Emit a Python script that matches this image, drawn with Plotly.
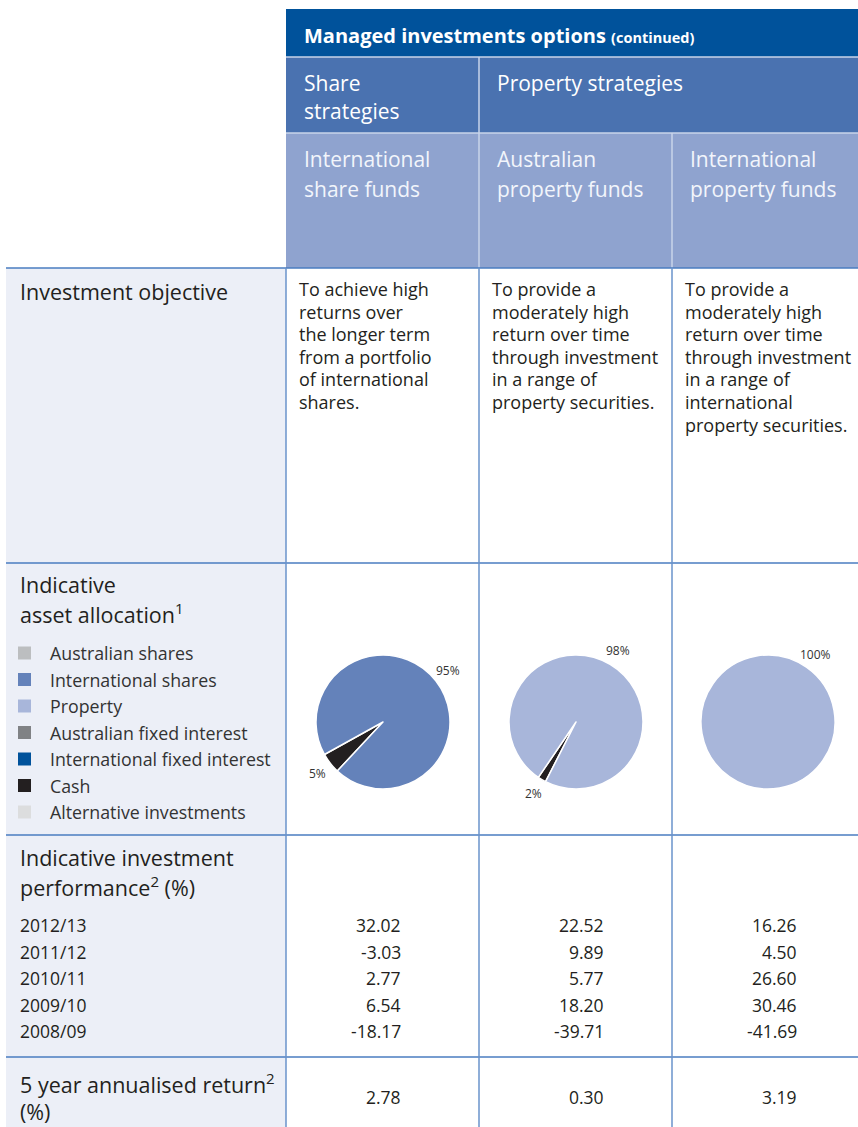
import math

import plotly.graph_objects as go

# ---- data ----
funds = ["International<br>share funds", "Australian<br>property funds", "International<br>property funds"]
strategies = ["Share<br>strategies", "Property strategies"]
objectives = [
    ["To achieve high", "returns over", "the longer term", "from a portfolio", "of international", "shares."],
    ["To provide a", "moderately high", "return over time", "through investment", "in a range of", "property securities."],
    ["To provide a", "moderately high", "return over time", "through investment", "in a range of", "international", "property securities."],
]
asset_classes = ["Australian shares", "International shares", "Property", "Australian fixed interest",
                 "International fixed interest", "Cash", "Alternative investments"]
asset_colors = ["#BCBEC0", "#6482BA", "#A8B6DA", "#808285", "#00529B", "#231F20", "#DCDDDE"]

pie_labels = [["Cash", "International shares"], ["Cash", "Property"], ["Property"]]
pie_values = [[5, 95], [2, 98], [100]]
pie_rotation = [223, 207, 215]

years = ["2012/13", "2011/12", "2010/11", "2009/10", "2008/09"]
performance = [
    ["32.02", "-3.03", "2.77", "6.54", "-18.17"],
    ["22.52", "9.89", "5.77", "18.20", "-39.71"],
    ["16.26", "4.50", "26.60", "30.46", "-41.69"],
]
five_year = ["2.78", "0.30", "3.19"]

# ---- layout constants (page pixels) ----
W, H = 858, 1127
FONT = "Open Sans"
DARK = "#231F20"
col_x = [286, 479, 672, W]
line_blue = "#4A7CC0"

fig = go.Figure()
shapes = []
ann = []


def rect(x0, y0, x1, y1, fill):
    shapes.append(dict(type="rect", xref="x", yref="y", x0=x0, y0=y0, x1=x1, y1=y1,
                       fillcolor=fill, line_width=0, layer="below"))


def line(x0, y0, x1, y1, color, width=1.5):
    shapes.append(dict(type="line", xref="x", yref="y", x0=x0, y0=y0, x1=x1, y1=y1,
                       line=dict(color=color, width=width)))


def text(x, y, s, size=18, color=DARK, anchor="left", weight=None):
    f = dict(family=FONT, size=size, color=color)
    if weight:
        f["weight"] = weight
    ann.append(dict(xref="x", yref="y", x=x, y=y, text=s, showarrow=False,
                    xanchor=anchor, yanchor="middle", font=f))


# header bands
rect(col_x[0], 9, W, 57, "#00529B")
rect(col_x[0], 57, W, 133, "#4A72B0")
rect(col_x[0], 133, W, 268, "#8FA3CF")
line(col_x[0], 57, W, 57, "#C9D4EA")
line(col_x[0], 133, W, 133, "#C9D4EA")
line(col_x[1], 57, col_x[1], 268, "#C9D4EA")
line(col_x[2], 133, col_x[2], 268, "#C9D4EA")

text(302, 35, "<b>Managed investments options</b> <b><span style='font-size:14.5px'>(continued)</span></b>",
     size=20, color="white")
for i, s in enumerate(strategies):
    for j, part in enumerate(s.split("<br>")):
        text(col_x[i] + 16, 83 + 28 * j, part, size=21, color="white")
for i, s in enumerate(funds):
    for j, part in enumerate(s.split("<br>")):
        text(col_x[i] + 16, 159 + 30 * j, part, size=21, color="#F2F5FB")

# body background + grid
rect(6, 268, col_x[0], H, "#ECEFF7")
for y in [268, 563, 835, 1057]:
    line(6, y, W, y, line_blue)
for x in col_x[:3]:
    line(x, 268, x, H, "#6A93CB")

# investment objective
text(18, 291, "Investment objective", size=21.5, weight=500)
for i, lines in enumerate(objectives):
    for j, part in enumerate(lines):
        text(col_x[i] + 11, 289 + 22.6 * j, part, size=18)

# asset allocation
text(18, 584, "Indicative", size=21.5, weight=500)
text(18, 613, "asset allocation<sup>1</sup>", size=21.5, weight=500)
leg_y = [653 + 26.5 * i for i in range(len(asset_classes))]
fig.add_trace(go.Scatter(x=[24.5] * len(asset_classes), y=leg_y, mode="markers",
                         marker=dict(symbol="square", size=13, color=asset_colors),
                         hoverinfo="skip", showlegend=False))
for y, name in zip(leg_y, asset_classes):
    text(48, y, name, size=17.8, color="#333333")

# pies
R, CY = 67, 722
pie_cx = [383, 576, 768]
for i in range(3):
    cx = pie_cx[i]
    colors = [asset_colors[asset_classes.index(l)] for l in pie_labels[i]]
    fig.add_trace(go.Pie(
        labels=pie_labels[i], values=pie_values[i], sort=False, direction="clockwise",
        rotation=pie_rotation[i], textinfo="none", hoverinfo="label+percent",
        marker=dict(colors=colors, line=dict(color="white", width=1.5)),
        domain=dict(x=[(cx - R) / W, (cx + R) / W], y=[1 - (CY + R) / H, 1 - (CY - R) / H]),
        showlegend=False,
    ))
    # percentage labels just outside each slice's mid angle
    total = sum(pie_values[i])
    cum = 0
    for v in pie_values[i]:
        mid = math.radians(pie_rotation[i] + (cum + v / 2) / total * 360)
        cum += v
        lx = cx + (R + 16) * math.sin(mid)
        ly = CY - (R + 16) * math.cos(mid)
        text(lx, ly, f"{v}%", size=12, color="#333333", anchor="center")

# performance
text(18, 857, "Indicative investment", size=21.5, weight=500)
text(18, 886, "performance<sup>2</sup> (%)", size=21.5, weight=500)
yr_y = [925 + 26.5 * i for i in range(len(years))]
for y, yr in zip(yr_y, years):
    text(18, y, yr, size=17.5)
val_right = [403, 606, 799]
for i in range(3):
    for y, v in zip(yr_y, performance[i]):
        text(val_right[i], y, v, size=17.5, anchor="right")

# five year
text(18, 1083, "5 year annualised return<sup>2</sup>", size=21.5, weight=500)
text(18, 1111, "(%)", size=21.5, weight=500)
for i in range(3):
    text(val_right[i], 1097, five_year[i], size=17.5, anchor="right")

fig.update_layout(
    width=W, height=H,
    margin=dict(l=0, r=0, t=0, b=0),
    paper_bgcolor="white", plot_bgcolor="white",
    xaxis=dict(range=[0, W], visible=False, fixedrange=True, domain=[0, 1]),
    yaxis=dict(range=[H, 0], visible=False, fixedrange=True, domain=[0, 1]),
    shapes=shapes, annotations=ann,
    font=dict(family=FONT),
)
# drop the browser's default 8px body margin so the figure fills the window
fig.write_html("out.html", config={"displayModeBar": False},
               post_script="document.body.style.margin='0';document.body.style.overflow='hidden';")
